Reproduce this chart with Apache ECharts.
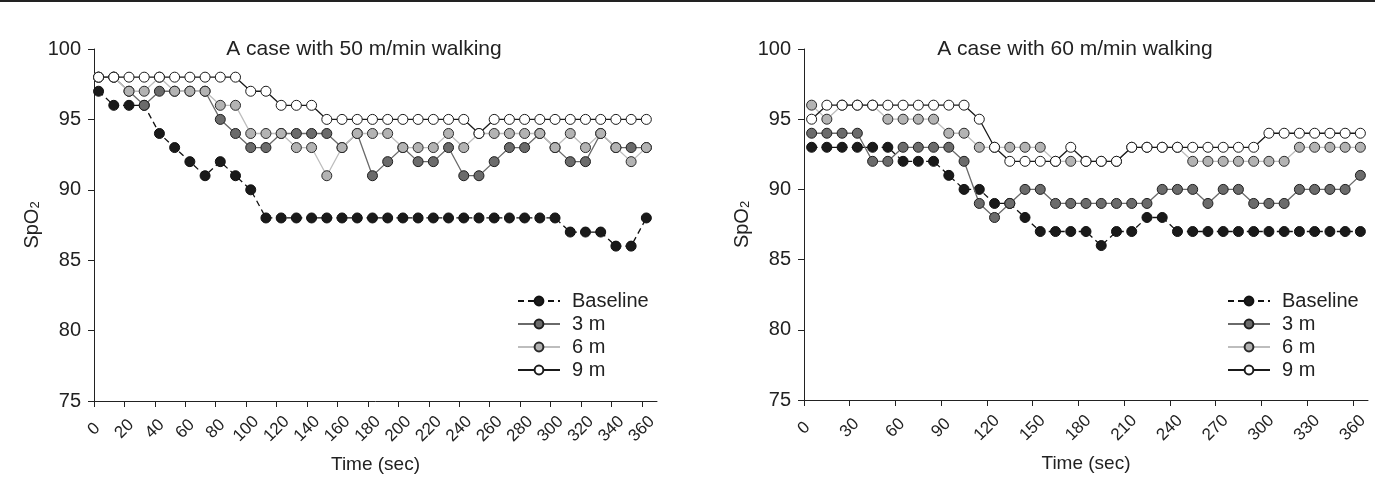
<!DOCTYPE html>
<html>
<head>
<meta charset="utf-8">
<script src="https://cdn.jsdelivr.net/npm/echarts@6/dist/echarts.min.js"></script>
<style>
html,body{margin:0;padding:0;background:#fff;}
#chart{width:1375px;height:481px;}
</style>
</head>
<body>
<div id="chart"></div>
<script>
// ---- data ----
const seriesNames = ['Baseline', '3 m', '6 m', '9 m'];
const timesLeft = [3,13,23,33,43,53,63,73,83,93,103,113,123,133,143,153,163,173,183,193,203,213,223,233,243,253,263,273,283,293,303,313,323,333,343,353,363];
const timesRight = [5,15,25,35,45,55,65,75,85,95,105,115,125,135,145,155,165,175,185,195,205,215,225,235,245,255,265,275,285,295,305,315,325,335,345,355,365];

const leftBaseline = [97,96,96,96,94,93,92,91,92,91,90,88,88,88,88,88,88,88,88,88,88,88,88,88,88,88,88,88,88,88,88,87,87,87,86,86,88];
const left3m = [98,98,97,96,97,97,97,97,95,94,93,93,94,94,94,94,93,94,91,92,93,92,92,93,91,91,92,93,93,94,93,92,92,94,93,93,93];
const left6m = [98,98,97,97,98,97,97,97,96,96,94,94,94,93,93,91,93,94,94,94,93,93,93,94,93,94,94,94,94,94,93,94,93,94,93,92,93];
const left9m = [98,98,98,98,98,98,98,98,98,98,97,97,96,96,96,95,95,95,95,95,95,95,95,95,95,94,95,95,95,95,95,95,95,95,95,95,95];

const rightBaseline = [93,93,93,93,93,93,92,92,92,91,90,90,89,89,88,87,87,87,87,86,87,87,88,88,87,87,87,87,87,87,87,87,87,87,87,87,87];
const right3m = [94,94,94,94,92,92,93,93,93,93,92,89,88,89,90,90,89,89,89,89,89,89,89,90,90,90,89,90,90,89,89,89,90,90,90,90,91];
const right6m = [96,95,96,96,96,95,95,95,95,94,94,93,93,93,93,93,92,92,92,92,92,93,93,93,93,92,92,92,92,92,92,92,93,93,93,93,93];
const right9m = [95,96,96,96,96,96,96,96,96,96,96,95,93,92,92,92,92,93,92,92,92,93,93,93,93,93,93,93,93,93,94,94,94,94,94,94,94];

const titles = ['A case with 50 m/min walking', 'A case with 60 m/min walking'];
const xIntervals = [20, 30];

// ---- styles ----
const FONT = '"Liberation Sans", Arial, sans-serif';
const styles = [
  {line: {color: '#111', width: 1.3, type: [6, 4]}, item: {color: '#1a1a1a', borderColor: '#111', borderWidth: 1}},
  {line: {color: '#6a6a6a', width: 1.3}, item: {color: '#6b6b6b', borderColor: '#1e1e1e', borderWidth: 1}},
  {line: {color: '#bdbdbd', width: 1.3}, item: {color: '#b3b3b3', borderColor: '#2a2a2a', borderWidth: 1}},
  {line: {color: '#1a1a1a', width: 1.3}, item: {color: '#ffffff', borderColor: '#1a1a1a', borderWidth: 1}}
];

function pairs(times, vals) { return times.map((t, i) => [t, vals[i]]); }

const chartData = [
  [leftBaseline, left3m, left6m, left9m],
  [rightBaseline, right3m, right6m, right9m]
];
const timeData = [timesLeft, timesRight];

const grids = [
  {left: 94, top: 49, width: 563, height: 352},
  {left: 804, top: 49, width: 564, height: 351}
];

const xAxes = [0, 1].map(k => ({
  type: 'value', gridIndex: k, min: 0, max: 370, interval: xIntervals[k],
  name: 'Time (sec)', nameLocation: 'middle', nameGap: 54,
  nameTextStyle: {fontFamily: FONT, fontSize: 19, color: '#222'},
  axisLine: {show: true, lineStyle: {color: '#222', width: 1}},
  axisTick: {show: true, inside: false, length: 6, lineStyle: {color: '#222'}},
  axisLabel: {rotate: 45, align: 'center', verticalAlign: 'middle', fontFamily: FONT, fontSize: 17, color: '#222', margin: 28, showMaxLabel: false},
  splitLine: {show: false}
}));

const yAxes = [0, 1].map(k => ({
  type: 'value', gridIndex: k, min: 75, max: 100, interval: 5,
  name: 'SpO{s|2}', nameLocation: 'middle', nameGap: 52, nameRotate: 90,
  nameTextStyle: {fontFamily: FONT, fontSize: 20, color: '#222',
    rich: {s: {fontFamily: FONT, fontSize: 13, color: '#222', verticalAlign: 'bottom', lineHeight: 16, padding: [10, 0, 0, 0]}}},
  axisLine: {show: true, lineStyle: {color: '#222', width: 1}},
  axisTick: {show: true, inside: false, length: 6, lineStyle: {color: '#222'}},
  axisLabel: {fontFamily: FONT, fontSize: 20, color: '#222', margin: 13},
  splitLine: {show: false}
}));

const series = [];
[0, 1].forEach(k => {
  chartData[k].forEach((vals, j) => {
    series.push({
      name: seriesNames[j], type: 'line', xAxisIndex: k, yAxisIndex: k,
      data: pairs(timeData[k], vals),
      symbol: 'circle', symbolSize: 10, showSymbol: true, showAllSymbol: true,
      lineStyle: styles[j].line, itemStyle: styles[j].item,
      z: 2 + j, animation: false
    });
  });
});

const legends = [517, 1227].map(x => ({
  data: seriesNames, orient: 'vertical', left: x, top: 291,
  itemWidth: 42, itemHeight: 11, itemGap: 3, padding: 0,
  formatter: n => '{a|' + n + '}',
  textStyle: {fontFamily: FONT, fontSize: 20, color: '#222', lineHeight: 20,
    rich: {a: {fontFamily: FONT, fontSize: 20, color: '#222', lineHeight: 20, padding: [0, 0, 0, 7]}}},
  selectedMode: false
}));

const option = {
  backgroundColor: '#fff',
  animation: false,
  grid: grids,
  xAxis: xAxes,
  yAxis: yAxes,
  legend: legends,
  series: series,
  graphic: [
    {type: 'line', shape: {x1: 0, y1: 1, x2: 1375, y2: 1}, style: {stroke: '#222', lineWidth: 2}, silent: true},
    {type: 'text', x: 364, y: 49, style: {text: titles[0], font: '21px ' + FONT, fill: '#222', align: 'center', verticalAlign: 'middle'}, silent: true},
    {type: 'text', x: 1075, y: 49, style: {text: titles[1], font: '21px ' + FONT, fill: '#222', align: 'center', verticalAlign: 'middle'}, silent: true}
  ]
};

const chart = echarts.init(document.getElementById('chart'), null, {renderer: 'canvas'});
chart.setOption(option);
</script>
</body>
</html>
